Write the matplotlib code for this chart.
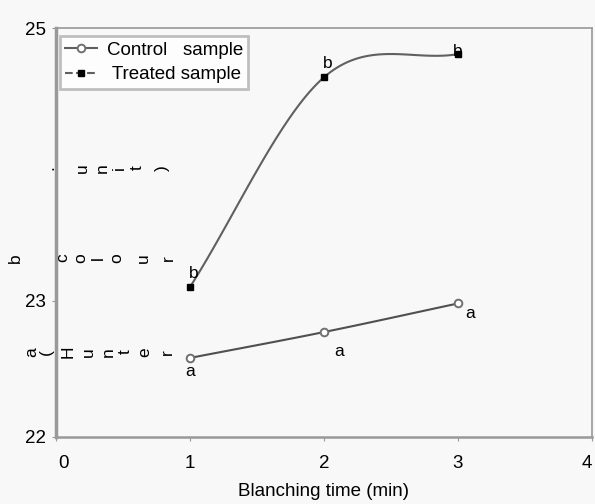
import numpy as np
import matplotlib.pyplot as plt
from matplotlib.transforms import ScaledTranslation

plt.rcParams['font.family'] = ['Liberation Sans', 'DejaVu Sans']

# data
times = [1, 2, 3]
control = [22.58, 22.77, 22.98]
treated = [23.10, 24.64, 24.81]
control_letters = ['a', 'a', 'a']
treated_letters = ['b', 'b', 'b']
xticks = [0, 1, 2, 3, 4]
yticks = [22, 23, 25]


# smooth line through the points (like the spreadsheet "smoothed line")
def smooth(x, y, n=40):
    x = np.asarray(x, float)
    y = np.asarray(y, float)
    px = np.concatenate([[2 * x[0] - x[1]], x, [2 * x[-1] - x[-2]]])
    py = np.concatenate([[2 * y[0] - y[1]], y, [2 * y[-1] - y[-2]]])
    xs, ys = [], []
    for i in range(1, len(px) - 2):
        t = np.linspace(0, 1, n)
        for arr, out in ((px, xs), (py, ys)):
            p0, p1, p2, p3 = arr[i - 1:i + 3]
            out.append(0.5 * (2 * p1 + (-p0 + p2) * t
                              + (2 * p0 - 5 * p1 + 4 * p2 - p3) * t ** 2
                              + (-p0 + 3 * p1 - 3 * p2 + p3) * t ** 3))
    return np.concatenate(xs), np.concatenate(ys)


fig = plt.figure(figsize=(5.95, 5.04), dpi=100, facecolor='#f8f8f8')
ax = fig.add_axes([0.094, 0.133, 0.901, 0.811])
ax.set_facecolor('#f8f8f8')

sx, sy = smooth(times, control)
ax.plot(sx, sy, color='#505050', lw=1.5)
ax.plot(times, control, ls='none', marker='o', ms=5.5, mfc='white',
        mec='#707070', mew=1.4)
sx, sy = smooth(times, treated)
ax.plot(sx, sy, color='#606060', lw=1.5)
ax.plot(times, treated, ls='none', marker='s', ms=5, mfc='black',
        mec='black')

# legend proxies
ax.plot([], [], color='#606060', lw=1.5, marker='o', ms=5.5, mfc='white',
        mec='#707070', mew=1.4, label='Control   sample')
ax.plot([], [], color='#606060', lw=1.5, marker='s', ms=5, mfc='black',
        mec='black', ls='--', label=' Treated sample')
handles, labels = ax.get_legend_handles_labels()
leg = ax.legend(handles, labels, loc='upper left', bbox_to_anchor=(0.0, 0.99),
                fontsize=13.5, frameon=True, fancybox=False, shadow=False,
                handlelength=1.7, handletextpad=0.5, borderpad=0.3,
                labelspacing=0.4, borderaxespad=0.2)
leg.get_frame().set_edgecolor('#b0b0b0')
leg.get_frame().set_linewidth(2)
leg.get_frame().set_facecolor('white')

# significance letters
offs_c = [(0, -10), (11, -14), (9, -7)]
for x, y, s, (dx, dy) in zip(times, control, control_letters, offs_c):
    ax.annotate(s, (x, y), xytext=(dx, dy), textcoords='offset points',
                ha='center', va='center', fontsize=12.5)
offs_t = [(3, 10), (3, 10), (0, 2)]
for x, y, s, (dx, dy) in zip(times, treated, treated_letters, offs_t):
    ax.annotate(s, (x, y), xytext=(dx, dy), textcoords='offset points',
                ha='center', va='center', fontsize=12.5)

ax.set_xlim(0, 4)
ax.set_ylim(22, 25)
ax.set_xticks(xticks)
ax.set_yticks(yticks)
ax.tick_params(labelsize=13.5, length=3, color='#999999')
ax.tick_params(axis='x', pad=10)
ax.tick_params(axis='y', pad=4)
for sp in ax.spines.values():
    sp.set_color('#999999')
ax.spines['left'].set_linewidth(2.5)
ax.spines['bottom'].set_linewidth(1.8)
ax.spines['top'].set_linewidth(1.2)
ax.spines['right'].set_linewidth(1.2)

# first x label sits a little right of its tick, last one at the edge
xlabels = ax.get_xticklabels()
xlabels[0].set_transform(xlabels[0].get_transform()
                         + ScaledTranslation(8 / 100, 0, fig.dpi_scale_trans))
xlabels[-1].set_ha('right')

ax.set_xlabel('Blanching time (min)', fontsize=13.5, labelpad=8)

# y label drawn as loose rotated characters, as in the original
rows = [
    (168, [(49, '.'), (82, 'u'), (102, 'n'), (119, 'i'), (137, 't'), (162, ')')]),
    (258, [(15, 'b'), (63, 'c'), (81, 'o'), (98, 'l'), (117, 'o'), (143, 'u'), (168, 'r')]),
    (352, [(32, 'a'), (46, '('), (68, 'H'), (88, 'u'), (108, 'n'), (125, 't'), (145, 'e'), (167, 'r')]),
]
for py, chars in rows:
    for px, ch in chars:
        fig.text(px / 595, 1 - py / 504, ch, rotation=90, fontsize=12.5,
                 ha='center', va='center')

fig.savefig('out.png', dpi=100, facecolor=fig.get_facecolor())
